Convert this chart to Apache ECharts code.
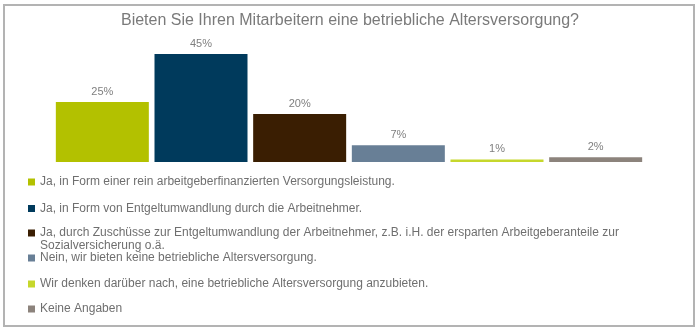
<!DOCTYPE html>
<html><head><meta charset="utf-8">
<script src="https://cdn.jsdelivr.net/npm/echarts@6/dist/echarts.min.js"></script>
<style>html,body{margin:0;padding:0;background:#fff}#c{width:700px;height:333px}</style>
</head><body><div id="c"></div>
<script>
const title = 'Bieten Sie Ihren Mitarbeitern eine betriebliche Altersversorgung?';
const categories = [
  'Ja, in Form einer rein arbeitgeberfinanzierten Versorgungsleistung.',
  'Ja, in Form von Entgeltumwandlung durch die Arbeitnehmer.',
  'Ja, durch Zuschüsse zur Entgeltumwandlung der Arbeitnehmer, z.B. i.H. der ersparten Arbeitgeberanteile zur Sozialversicherung o.ä.',
  'Nein, wir bieten keine betriebliche Altersversorgung.',
  'Wir denken darüber nach, eine betriebliche Altersversorgung anzubieten.',
  'Keine Angaben'
];
const values = [25, 45, 20, 7, 1, 2];
const colors = ['#b3c100', '#003a5c', '#3a1e02', '#687f96', '#c6d72c', '#8c837c'];
const legendTops = [175.5, 202, 213.5, 251.5, 277.5, 302.5];

const FONT = '"Liberation Sans", Arial, sans-serif';
const series = categories.map((name, i) => ({
  name: name,
  type: 'bar',
  stack: 'all',
  barWidth: 93,
  itemStyle: { color: colors[i] },
  label: { show: true, position: 'top', distance: 5, formatter: '{c}%', color: '#7f7f7f', fontSize: 11, fontFamily: FONT },
  data: values.map((v, j) => (j === i ? v : '-'))
}));

const legends = categories.map((name, i) => {
  const twoLine = name.length > 100;
  return {
    data: [name],
    orient: 'vertical',
    left: 28,
    top: legendTops[i],
    padding: 0,
    icon: 'rect',
    itemWidth: 7,
    itemHeight: 7,
    selectedMode: false,
    formatter: n => twoLine ? '\n' + n.replace(' Sozialversicherung', '\nSozialversicherung') : n,
    textStyle: { color: '#6f6f6f', fontSize: 12, fontFamily: FONT, lineHeight: 13 }
  };
});

const chart = echarts.init(document.getElementById('c'), null, { renderer: 'canvas' });
chart.setOption({
  animation: false,
  title: { text: title, left: 'center', top: 8, textStyle: { color: '#7a7a7a', fontSize: 16, fontWeight: 'normal', fontFamily: FONT } },
  graphic: [{ type: 'rect', shape: { x: 4, y: 5, width: 690, height: 321 }, style: { fill: 'none', stroke: '#b3b3b3', lineWidth: 2 }, silent: true }],
  legend: legends,
  grid: { left: 53, right: 55, top: 42, height: 120 },
  xAxis: { type: 'category', data: categories, show: false },
  yAxis: { type: 'value', min: 0, max: 50, show: false },
  series: series
});
</script></body></html>
